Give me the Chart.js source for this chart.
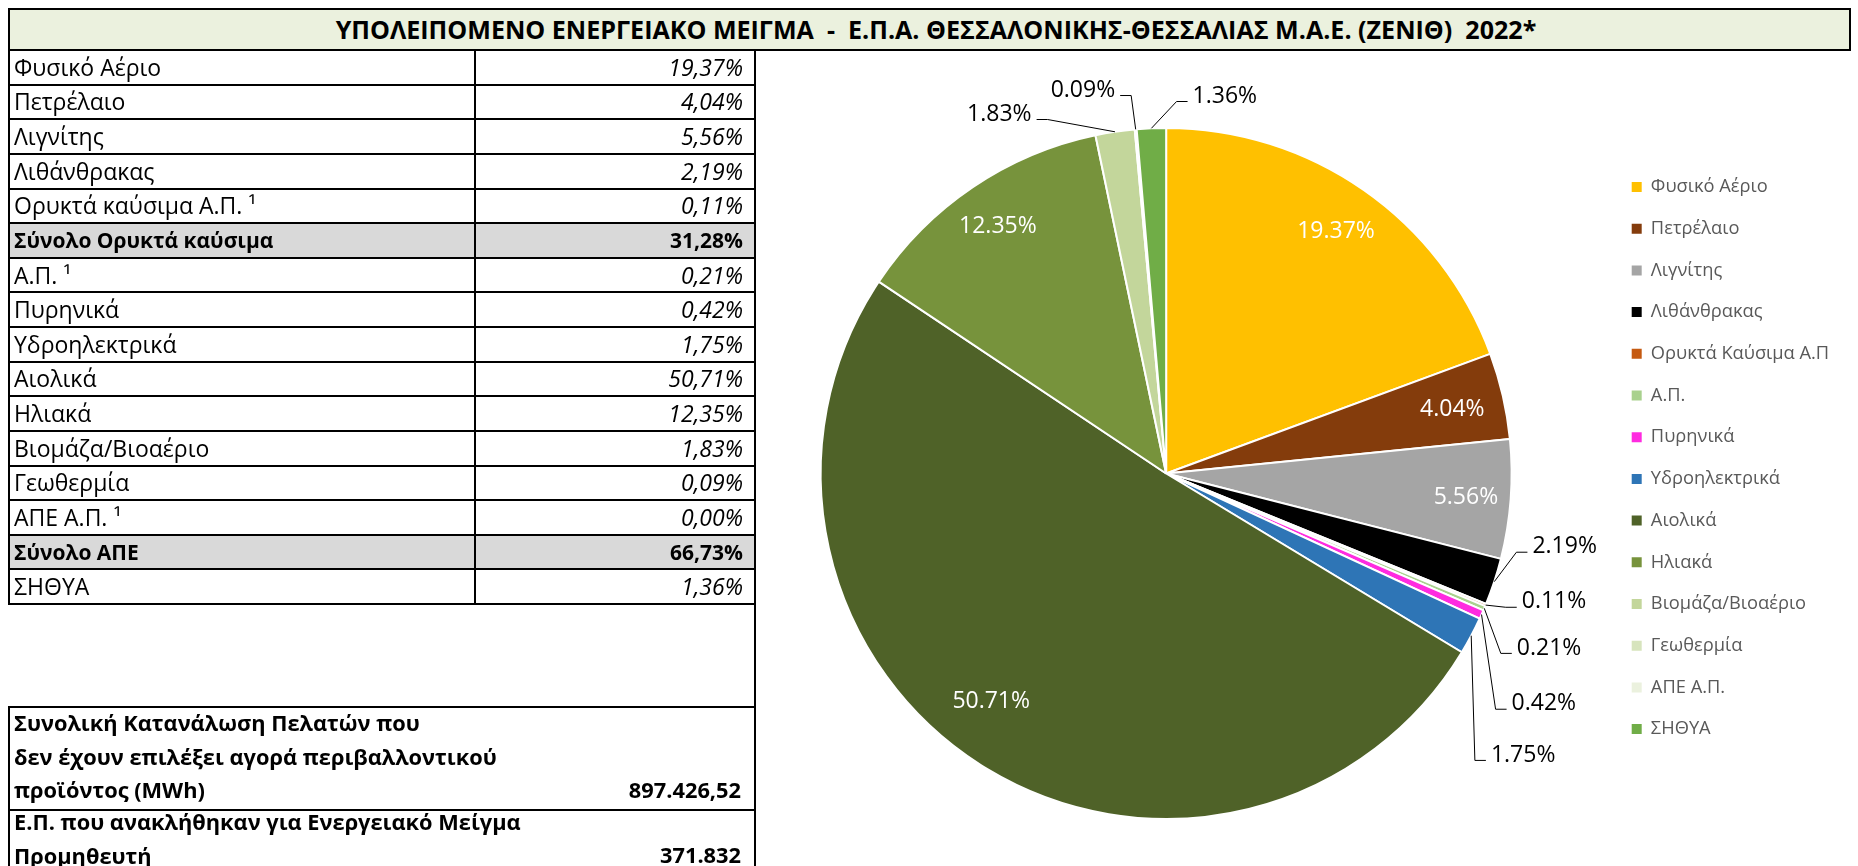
<!DOCTYPE html>
<html><head><meta charset="utf-8">
<script src="https://cdn.jsdelivr.net/npm/chart.js@4.4.1/dist/chart.umd.min.js"></script>
<style>
html,body{margin:0;padding:0;background:#fff;width:1858px;height:866px;overflow:hidden;font-family:'Open Sans',sans-serif;color:#000;}
#wrap{position:relative;width:1858px;height:866px;}
#chartBox{position:absolute;left:700px;top:50px;width:1158px;height:816px;z-index:1;}
.box{position:absolute;box-sizing:border-box;border:2px solid #000;z-index:2;}
.txt{position:absolute;white-space:nowrap;z-index:3;line-height:1;}
#title{left:8px;top:8px;width:1843px;height:43px;background:#EBF1DE;}
</style></head>
<body><div id="wrap">
<div id="chartBox"><canvas id="c"></canvas></div>
<div id="title" class="box"></div>
</div>
<script>
// ---- data ----
const titleText = 'ΥΠΟΛΕΙΠΟΜΕΝΟ ΕΝΕΡΓΕΙΑΚΟ ΜΕΙΓΜΑ  -  Ε.Π.Α. ΘΕΣΣΑΛΟΝΙΚΗΣ-ΘΕΣΣΑΛΙΑΣ Μ.Α.Ε. (ΖΕΝΙΘ)  2022*';
const categories = ['Φυσικό Αέριο','Πετρέλαιο','Λιγνίτης','Λιθάνθρακας','Ορυκτά Καύσιμα Α.Π','Α.Π.','Πυρηνικά','Υδροηλεκτρικά','Αιολικά','Ηλιακά','Βιομάζα/Βιοαέριο','Γεωθερμία','ΑΠΕ Α.Π.','ΣΗΘΥΑ'];
const shares = [19.37,4.04,5.56,2.19,0.11,0.21,0.42,1.75,50.71,12.35,1.83,0.09,0.00,1.36];
const sliceColors = ['#FFC000','#843C0C','#A5A5A5','#000000','#C55A11','#A9D18E','#FF2BE0','#2E75B6','#4F6228','#77933C','#C3D69B','#D7E4BD','#EBF1DE','#70AD47'];
const tableLabels = ['Φυσικό Αέριο','Πετρέλαιο','Λιγνίτης','Λιθάνθρακας','Ορυκτά καύσιμα Α.Π. ¹','Σύνολο Ορυκτά καύσιμα','Α.Π. ¹','Πυρηνικά','Υδροηλεκτρικά','Αιολικά','Ηλιακά','Βιομάζα/Βιοαέριο','Γεωθερμία','ΑΠΕ Α.Π. ¹','Σύνολο ΑΠΕ','ΣΗΘΥΑ'];
const tableValues = [19.37,4.04,5.56,2.19,0.11,31.28,0.21,0.42,1.75,50.71,12.35,1.83,0.09,0.00,66.73,1.36];
const tableTotalRows = [5,14];
const consumptionLines = ['Συνολική Κατανάλωση Πελατών που','δεν έχουν επιλέξει αγορά περιβαλλοντικού','προϊόντος (MWh)'];
const consumptionValue = '897.426,52';
const certificateLines = ['Ε.Π. που ανακλήθηκαν για Ενεργειακό Μείγμα','Προμηθευτή'];
const certificateValue = '371.832';

// ---- label placement (layout only) ----
const insideLabelRadius = {0:0.86,1:0.85,2:0.87,9:0.87};
const insideLabelPolar = {8:[217.7,0.828]};
const outsideLabelPolar = {3:[100.2,1.172],4:[108.1,1.181],5:[114.3,1.216],6:[121.2,1.278],7:[128.1,1.313],10:[335.2,1.151],11:[347.8,1.140],13:[8.8,1.110]};

const wrap = document.getElementById('wrap');
function addBox(l,t,w,h,bg,extra){const d=document.createElement('div');d.className='box';d.style.cssText=`left:${l}px;top:${t}px;width:${w}px;height:${h}px;${bg?'background:'+bg+';':''}${extra||''}`;wrap.appendChild(d);return d;}
function addText(s,x,cy,size,opts){
  opts=opts||{};
  const d=document.createElement('div');d.className='txt';d.textContent=s;
  d.style.fontSize=size+'px';
  if(opts.bold)d.style.fontWeight='bold';
  if(opts.italic)d.style.fontStyle='italic';
  d.style.top=(cy-size/2)+'px';
  if(opts.right){d.style.right=(1858-x)+'px';}
  else if(opts.center){d.style.left=x+'px';d.style.transform='translateX(-50%)';}
  else d.style.left=x+'px';
  wrap.appendChild(d);return d;
}
// title
(function(){
  const m=document.createElement('canvas').getContext('2d');
  m.font='bold 22px "Open Sans"';
  const w=m.measureText(titleText.replace(/  /g,'  ')).width;
  const size=22*1201/w;
  const t=addText(titleText,936,30,size,{bold:true,center:true});
  t.style.whiteSpace='pre';
})();
// table
const rowTop=49,rowH=34.625,tL=8,tR=756,tDiv=474;
tableLabels.forEach((lab,i)=>{
  const y=rowTop+i*rowH;
  const tot=tableTotalRows.includes(i);
  addBox(tL,y,tR-tL,rowH+2,tot?'#D9D9D9':null);
  addBox(tDiv,y,2,rowH+2,null,'border-width:0 0 0 2px;');
  const cy=y+rowH/2+1;
  addText(lab,14,cy,tot?21:23,{bold:tot});
  addText(tableValues[i].toFixed(2).replace('.',',')+'%',743,cy,tot?21:23,{bold:tot,italic:!tot,right:true});
});
// connector right border between table and bottom box
addBox(tR-2,rowTop+16*rowH,2,706-(rowTop+16*rowH)+2,null,'border-width:0 0 0 2px;');
// bottom box
addBox(tL,706,tR-tL,105);
addBox(tL,809,tR-tL,80);
consumptionLines.forEach((s,i)=>addText(s,14,723+i*33.5,21.8,{bold:true}));
addText(consumptionValue,741,790,21.8,{bold:true,right:true});
certificateLines.forEach((s,i)=>addText(s,14,822+i*33.5,21.8,{bold:true}));
addText(certificateValue,741,855,21.8,{bold:true,right:true});

// ---- chart ----
const legendFont=18.3, legendPad=23.4, legendBox=10;
const mctx=document.createElement('canvas').getContext('2d');
mctx.font=legendFont+'px "Open Sans"';
const maxText=Math.max(...categories.map(s=>mctx.measureText(s).width));
const legendW=legendPad+legendBox+legendFont/2+maxText+10;
const canvasLeft=700, canvasTop=50, canvasW=1158, canvasH=816;
const legendLeft=1608.3-canvasLeft;
const padRight=canvasW-legendLeft-legendW;
const areaTop=187-legendPad-legendFont/2;       // page y of chart area top
const pieCY=473.5;
const padTop=areaTop-canvasTop, padBottom=(canvasTop+canvasH)-(2*pieCY-areaTop);

const pieLabels={
  id:'pieLabels',
  afterDatasetsDraw(chart){
    const ctx=chart.ctx, meta=chart.getDatasetMeta(0);
    ctx.save();
    ctx.font='23px "Open Sans"';
    ctx.textBaseline='alphabetic';ctx.textAlign='center';
    const cap=16.4;
    meta.data.forEach((arc,i)=>{
      const p=arc.getProps(['x','y','startAngle','endAngle','outerRadius'],true);
      const mid=(p.startAngle+p.endAngle)/2;
      const txt=shares[i].toFixed(2)+'%';
      const w=ctx.measureText(txt).width;
      if(insideLabelRadius[i]!=null||insideLabelPolar[i]){
        let a=mid,d;
        if(insideLabelPolar[i]){a=insideLabelPolar[i][0]*Math.PI/180-Math.PI/2;d=p.outerRadius*insideLabelPolar[i][1];}
        else d=p.outerRadius*insideLabelRadius[i];
        ctx.fillStyle='#fff';
        ctx.fillText(txt,p.x+Math.cos(a)*d,p.y+Math.sin(a)*d+cap/2);
      }else if(outsideLabelPolar[i]){
        const [deg,f]=outsideLabelPolar[i];
        const a=deg*Math.PI/180-Math.PI/2;
        const cx=p.x+Math.cos(a)*p.outerRadius*f, cy=p.y+Math.sin(a)*p.outerRadius*f;
        const sx=p.x+Math.cos(mid)*p.outerRadius, sy=p.y+Math.sin(mid)*p.outerRadius;
        const right=cx>sx;
        const ly=cy+7;
        const endX=right?cx-w/2-5:cx+w/2+5;
        const elbowX=right?endX-11:endX+11;
        ctx.strokeStyle='#000';ctx.lineWidth=1;
        ctx.beginPath();ctx.moveTo(sx,sy);ctx.lineTo(elbowX,ly);ctx.lineTo(endX,ly);ctx.stroke();
        ctx.fillStyle='#000';
        ctx.fillText(txt,cx,cy+cap/2);
      }
    });
    ctx.restore();
  }
};

new Chart(document.getElementById('c'),{
  type:'pie',
  data:{labels:categories,datasets:[{data:shares,backgroundColor:sliceColors,borderColor:'#ffffff',borderWidth:2,radius:345.5,clip:false}]},
  options:{
    responsive:true,maintainAspectRatio:false,animation:false,
    radius:345.5,
    layout:{padding:{left:24,right:padRight,top:padTop,bottom:padBottom}},
    plugins:{
      tooltip:{enabled:false},
      legend:{position:'right',align:'start',
        labels:{font:{family:'"Open Sans"',size:legendFont},color:'#595959',boxWidth:legendBox,boxHeight:legendBox,padding:legendPad,
          generateLabels(chart){
            const items=Chart.controllers.pie.overrides.plugins.legend.labels.generateLabels(chart);
            items.forEach(it=>{it.lineWidth=0;it.strokeStyle='transparent';});
            return items;
          }}
      }
    }
  },
  plugins:[pieLabels]
});
</script>
</body></html>
